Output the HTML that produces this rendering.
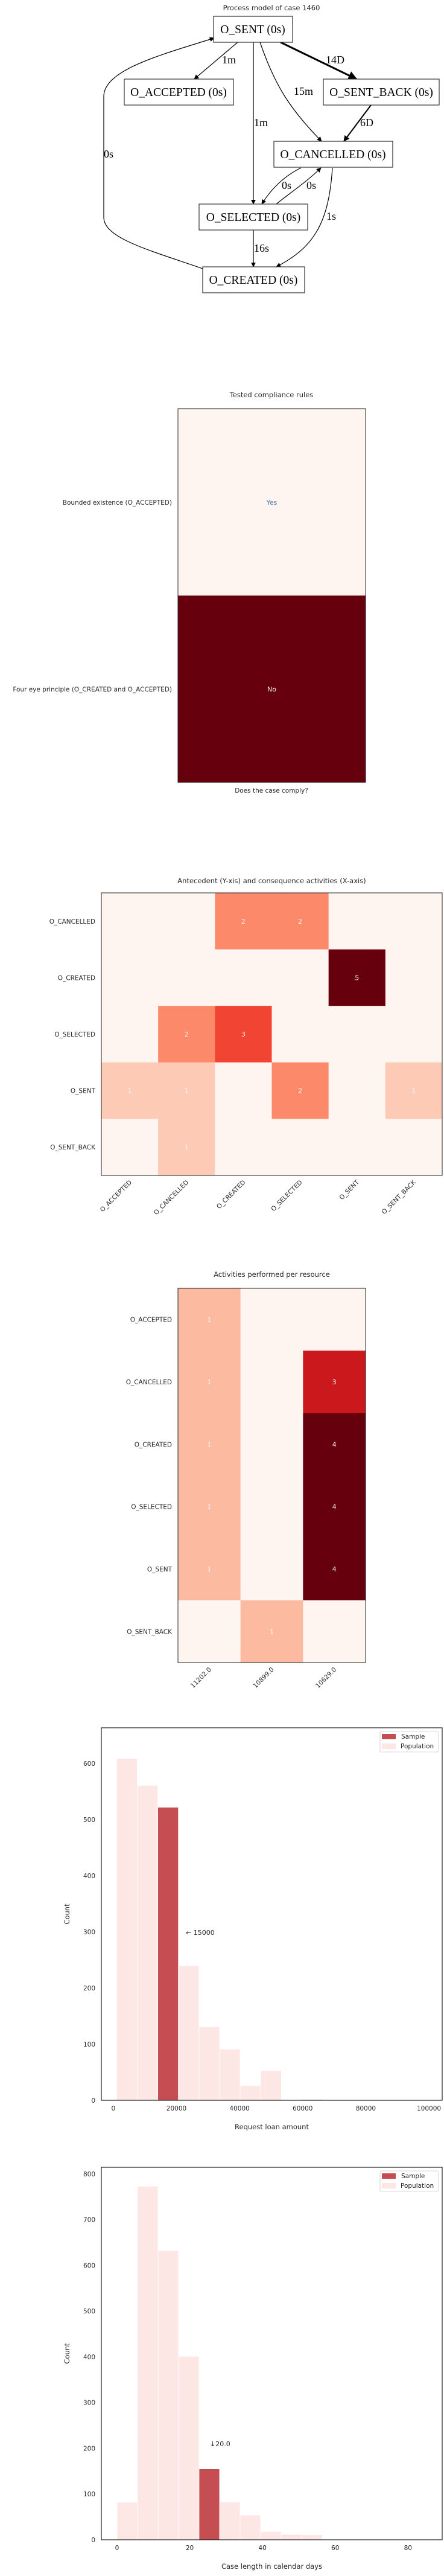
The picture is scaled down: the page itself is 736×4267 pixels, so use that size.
<!DOCTYPE html>
<html><head><meta charset="utf-8"><style>
html,body{margin:0;padding:0;background:#fff;}
svg{display:block;}
text{font-family:"DejaVu Sans","Liberation Sans",sans-serif;fill:#262626;}
.g text.n{font-family:"Liberation Serif",serif;font-size:19.5px;fill:#000;}
.g text.e{font-family:"Liberation Serif",serif;font-size:18px;fill:#000;}
</style></head><body>
<svg id="root" width="736" height="4267" viewBox="0 0 736 4267" xmlns="http://www.w3.org/2000/svg">
<defs>
<marker id="ah" viewBox="0 0 10 10" refX="9" refY="5" markerWidth="8" markerHeight="8" markerUnits="userSpaceOnUse" orient="auto"><path d="M0,0 L10,5 L0,10 z" fill="#000"/></marker>
<marker id="ah2" viewBox="0 0 10 10" refX="9" refY="5" markerWidth="5" markerHeight="5" orient="auto"><path d="M0,0 L10,5 L0,10 z" fill="#000"/></marker>
</defs>

<!-- Process model graph -->
<g class="g">
<text x="450" y="17" text-anchor="middle" font-size="11.5">Process model of case 1460</text>
<g fill="none" stroke="#000" stroke-width="1.2">
<path d="M394,70 L322,131" marker-end="url(#ah)"/>
<path d="M420,70 L420,338" marker-end="url(#ah)"/>
<path d="M431,70 C455,140 480,180 533,234" marker-end="url(#ah)"/>
<path d="M465,70 L591,131" stroke-width="3" marker-end="url(#ah2)"/>
<path d="M615,174 L570,234" stroke-width="2" marker-end="url(#ah2)"/>
<path d="M499,278 C470,292 448,315 434,338" marker-end="url(#ah)"/>
<path d="M458,338 C480,320 510,300 532,278" marker-end="url(#ah)"/>
<path d="M551,278 C545,370 520,410 458,442" marker-end="url(#ah)"/>
<path d="M420,381 L420,442" marker-end="url(#ah)"/>
<path d="M336,445 C250,415 172,395 172,360 L172,160 C172,115 270,90 355,63" marker-end="url(#ah)"/>
</g>
<g fill="#fff" stroke="#333" stroke-width="1.2">
<rect x="354" y="27" width="131" height="43"/>
<rect x="206" y="131" width="181" height="43"/>
<rect x="536" y="131" width="192" height="43"/>
<rect x="454" y="234" width="197" height="43"/>
<rect x="330" y="338" width="180" height="43"/>
<rect x="336" y="442" width="169" height="43"/>
</g>
<text class="n" x="419" y="55" text-anchor="middle">O_SENT (0s)</text>
<text class="n" x="296" y="159" text-anchor="middle">O_ACCEPTED (0s)</text>
<text class="n" x="632" y="159" text-anchor="middle">O_SENT_BACK (0s)</text>
<text class="n" x="552" y="262" text-anchor="middle">O_CANCELLED (0s)</text>
<text class="n" x="420" y="366" text-anchor="middle">O_SELECTED (0s)</text>
<text class="n" x="420" y="470" text-anchor="middle">O_CREATED (0s)</text>
<text class="e" x="368" y="105">1m</text>
<text class="e" x="540" y="105">14D</text>
<text class="e" x="487" y="157">15m</text>
<text class="e" x="421" y="209">1m</text>
<text class="e" x="597" y="209">6D</text>
<text class="e" x="172" y="261">0s</text>
<text class="e" x="467" y="313">0s</text>
<text class="e" x="508" y="313">0s</text>
<text class="e" x="541" y="364">1s</text>
<text class="e" x="421" y="417">16s</text>
</g>

<g id="compliance"></g>
<g id="antecedent"></g>
<g id="resource"></g>
<g id="hist1"></g>
<g id="hist2"></g>
</svg>
<script>
// ---- data ----
const complianceRules = ["Bounded existence (O_ACCEPTED)", "Four eye principle (O_CREATED and O_ACCEPTED)"];
const complianceValues = [0, 1];
const complianceLabels = ["Yes", "No"];

const antRows = ["O_CANCELLED", "O_CREATED", "O_SELECTED", "O_SENT", "O_SENT_BACK"];
const antCols = ["O_ACCEPTED", "O_CANCELLED", "O_CREATED", "O_SELECTED", "O_SENT", "O_SENT_BACK"];
const antCancelled = [0, 0, 2, 2, 0, 0];
const antCreated = [0, 0, 0, 0, 5, 0];
const antSelected = [0, 2, 3, 0, 0, 0];
const antSent = [1, 1, 0, 2, 0, 1];
const antSentBack = [0, 1, 0, 0, 0, 0];

const resRows = ["O_ACCEPTED", "O_CANCELLED", "O_CREATED", "O_SELECTED", "O_SENT", "O_SENT_BACK"];
const resCols = ["11202.0", "10899.0", "10629.0"];
const res11202 = [1, 1, 1, 1, 1, 0];
const res10899 = [0, 0, 0, 0, 0, 1];
const res10629 = [0, 3, 4, 4, 4, 0];

const loanBinStart = 1050;
const loanBinWidth = 6520;
const loanCounts = [609, 561, 522, 240, 131, 91, 26, 53, 0, 2];
const loanSampleBin = 2;
const loanTicks = [0, 20000, 40000, 60000, 80000, 100000];
const loanYTicks = [0, 100, 200, 300, 400, 500, 600];
const loanAnnotation = "\u2190 15000";

const daysBinStart = 0;
const daysBinWidth = 5.64;
const daysCounts = [82, 773, 632, 401, 155, 83, 54, 18, 12, 11];
const daysSampleBin = 4;
const daysTicks = [0, 20, 40, 60, 80];
const daysYTicks = [0, 100, 200, 300, 400, 500, 600, 700, 800];
const daysAnnotation = "\u219320.0";

// ---- helpers ----
const NS = "http://www.w3.org/2000/svg";
function mk(parent, tag, attrs, txt) {
  const el = document.createElementNS(NS, tag);
  for (const k in attrs) el.setAttribute(k, attrs[k]);
  if (txt !== undefined) el.textContent = txt;
  parent.appendChild(el);
  return el;
}
const redsStops = [[255,245,240],[254,224,210],[252,187,161],[252,146,114],[251,106,74],[239,59,44],[203,24,29],[165,15,21],[103,0,13]];
function reds(t) {
  t = Math.max(0, Math.min(1, t)) * (redsStops.length - 1);
  const i = Math.min(Math.floor(t), redsStops.length - 2), f = t - i;
  const a = redsStops[i], b = redsStops[i + 1];
  return "rgb(" + a.map((v, k) => Math.round(v + (b[k] - v) * f)).join(",") + ")";
}

// ---- compliance heatmap ----
(function () {
  const g = document.getElementById("compliance");
  const x0 = 295, x1 = 606, y0 = 677, y1 = 1296;
  const rh = (y1 - y0) / complianceRules.length;
  mk(g, "text", {x: 450, y: 658, "text-anchor": "middle", "font-size": 11.5,  }, "Tested compliance rules");
  complianceRules.forEach((r, i) => {
    const c = mk(g, "rect", {x: x0, y: y0 + i * rh, width: x1 - x0, height: rh, fill: reds(complianceValues[i])});
    
    
    const t = mk(g, "text", {x: (x0 + x1) / 2, y: y0 + (i + 0.5) * rh + 4, "text-anchor": "middle", "font-size": 11, style: "fill:" + (complianceValues[i] > 0.5 ? "#f0f0f0" : "#4c72b0")}, complianceLabels[i]);
    
    
    const l = mk(g, "text", {x: 285, y: y0 + (i + 0.5) * rh + 4, "text-anchor": "end", "font-size": 10.5}, r);
    
    
  });
  mk(g, "rect", {x: x0, y: y0, width: x1 - x0, height: y1 - y0, fill: "none", stroke: "#222", "stroke-width": 1});
  mk(g, "text", {x: 450, y: 1313, "text-anchor": "middle", "font-size": 10.5,  }, "Does the case comply?");
})();

// ---- generic heatmap ----
function heatmap(gid, rows, cols, matrix, box, title, titleY, labelX) {
  const g = document.getElementById(gid);
  const [x0, y0, x1, y1] = box;
  const cw = (x1 - x0) / cols.length, rh = (y1 - y0) / rows.length;
  const vmax = Math.max(...matrix.flat());
  mk(g, "text", {x: (x0 + x1) / 2, y: titleY, "text-anchor": "middle", "font-size": 11.5,  }, title);
  rows.forEach((r, i) => {
    cols.forEach((c, j) => {
      const v = matrix[i][j];
      const cell = mk(g, "rect", {x: x0 + j * cw, y: y0 + i * rh, width: cw + 0.5, height: rh + 0.5, fill: reds(v / vmax)});
      
      
      if (v > 0) {
        const t = mk(g, "text", {x: x0 + (j + 0.5) * cw, y: y0 + (i + 0.5) * rh + 4, "text-anchor": "middle", "font-size": 11, style: "fill:#f4f4f4"}, String(v));
        
        
      }
    });
    const l = mk(g, "text", {x: labelX, y: y0 + (i + 0.5) * rh + 4, "text-anchor": "end", "font-size": 10.5}, r);
    
    
  });
  cols.forEach((c, j) => {
    const tx = x0 + (j + 0.5) * cw + 4, ty = y1 + 12;
    const l = mk(g, "text", {x: tx, y: ty, "text-anchor": "end", "font-size": 10.5, transform: "rotate(-45 " + tx + " " + ty + ")"}, c);
    
    
  });
  mk(g, "rect", {x: x0, y: y0, width: x1 - x0, height: y1 - y0, fill: "none", stroke: "#222", "stroke-width": 1});
}
heatmap("antecedent", antRows, antCols, [antCancelled, antCreated, antSelected, antSent, antSentBack],
  [168, 1479, 733, 1947], "Antecedent (Y-xis) and consequence activities (X-axis)", 1463, 158);
const resMatrix = resRows.map((r, i) => [res11202[i], res10899[i], res10629[i]]);
heatmap("resource", resRows, resCols, resMatrix, [295, 2134, 606, 2754], "Activities performed per resource", 2115, 285);

// ---- histograms ----
function histogram(gid, counts, binStart, binWidth, sampleBin, xTicks, yTicks, box, xDomain, yMax, xLabel, annotation, annX, annY) {
  const g = document.getElementById(gid);
  const [x0, y0, x1, y1] = box;
  const xs = v => x0 + (v - xDomain[0]) / (xDomain[1] - xDomain[0]) * (x1 - x0);
  const ys = v => y1 - v / yMax * (y1 - y0);
  counts.forEach((c, i) => {
    const a = xs(binStart + i * binWidth), b = xs(binStart + (i + 1) * binWidth);
    const bar = mk(g, "rect", {x: a, y: ys(c), width: b - a, height: y1 - ys(c), fill: i === sampleBin ? "#c44e52" : "#fde7e4", stroke: "#fff", "stroke-width": 0.8});
    
    
  });
  mk(g, "rect", {x: x0, y: y0, width: x1 - x0, height: y1 - y0, fill: "none", stroke: "#222", "stroke-width": 1.2});
  xTicks.forEach(t => {
    const l = mk(g, "text", {x: xs(t), y: y1 + 17, "text-anchor": "middle", "font-size": 10.5}, String(t));
    
    
  });
  yTicks.forEach(t => {
    const l = mk(g, "text", {x: 158, y: ys(t) + 4, "text-anchor": "end", "font-size": 10.5}, String(t));
    
    
  });
  const cy = (y0 + y1) / 2;
  mk(g, "text", {x: 115, y: cy, "text-anchor": "middle", "font-size": 11.5, transform: "rotate(-90 115 " + cy + ")",  }, "Count");
  mk(g, "text", {x: (x0 + x1) / 2, y: y1 + 48, "text-anchor": "middle", "font-size": 11.5,  }, xLabel);
  mk(g, "text", {x: annX, y: annY, "font-size": 11,  }, annotation);
  // legend
  const lg = mk(g, "g", { });
  mk(lg, "rect", {x: 630, y: y0 + 6, width: 97, height: 34, fill: "#fff", stroke: "#ccc", "stroke-width": 0.8, rx: 2});
  mk(lg, "rect", {x: 633, y: y0 + 10, width: 23, height: 9, fill: "#c44e52"});
  mk(lg, "text", {x: 665, y: y0 + 18, "font-size": 10.5,  }, "Sample");
  mk(lg, "rect", {x: 633, y: y0 + 26, width: 23, height: 9, fill: "#fde7e4"});
  mk(lg, "text", {x: 664, y: y0 + 34, "font-size": 10.5,  }, "Population");
}
histogram("hist1", loanCounts, loanBinStart, loanBinWidth, loanSampleBin, loanTicks, loanYTicks,
  [168, 2862, 733, 3479], [-3800, 104200], 663.7, "Request loan amount", loanAnnotation, 308, 3205);
histogram("hist2", daysCounts, daysBinStart, daysBinWidth, daysSampleBin, daysTicks, daysYTicks,
  [168, 3590, 733, 4207], [-4.3, 89.4], 814.5, "Case length in calendar days", daysAnnotation, 348, 4052);
</script>
</body></html>
